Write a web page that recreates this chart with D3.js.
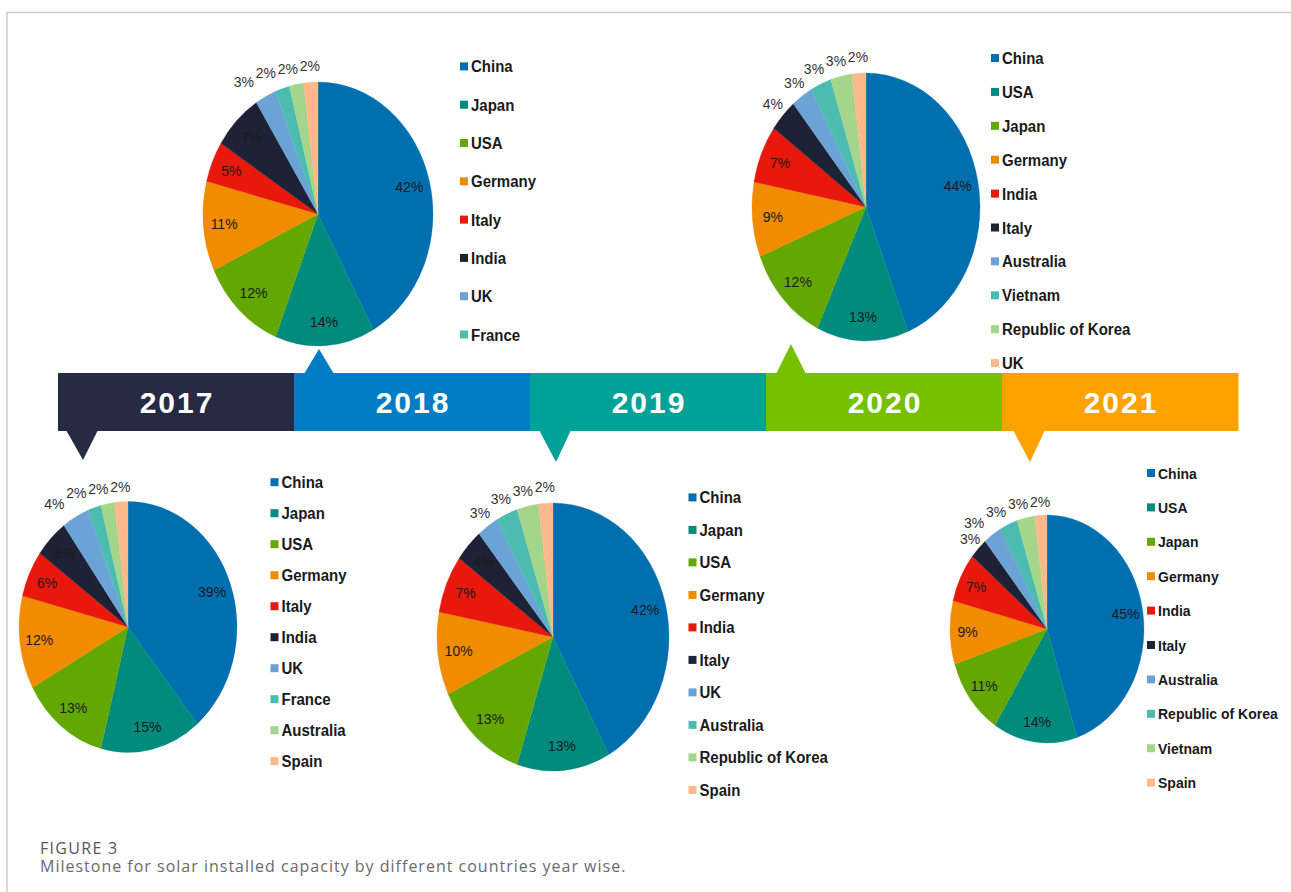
<!DOCTYPE html>
<html><head><meta charset="utf-8">
<script src="https://cdn.jsdelivr.net/npm/d3@7"></script>
<style>body{margin:0;background:#fff;} svg{display:block;}</style>
</head><body><svg id="c" width="1291" height="892"></svg>
<script>
// ---------- DATA ----------
const years = ["2017", "2018", "2019", "2020", "2021"];

const categories2017 = ["China","Japan","USA","Germany","Italy","India","UK","France","Australia","Spain"];
const values2017 = [39, 15, 13, 12, 6, 5, 4, 2, 2, 2];

// 2018 legend shows only eight names; last two slices are unnamed in the figure
const categories2018 = ["China","Japan","USA","Germany","Italy","India","UK","France","",""];
const values2018 = [42, 14, 12, 11, 5, 7, 3, 2, 2, 2];

const categories2019 = ["China","Japan","USA","Germany","India","Italy","UK","Australia","Republic of Korea","Spain"];
const values2019 = [42, 13, 13, 10, 7, 4, 3, 3, 3, 2];

const categories2020 = ["China","USA","Japan","Germany","India","Italy","Australia","Vietnam","Republic of Korea","UK"];
const values2020 = [44, 13, 12, 9, 7, 4, 3, 3, 3, 2];

const categories2021 = ["China","USA","Japan","Germany","India","Italy","Australia","Republic of Korea","Vietnam","Spain"];
const values2021 = [45, 14, 11, 9, 7, 3, 3, 3, 3, 2];

const captionTitle = "FIGURE 3";
const captionText = "Milestone for solar installed capacity by different countries year wise.";

// ---------- STYLE / LAYOUT ----------
const sliceColors = ["#006fb0","#008b7e","#63a800","#f18c00","#e8180c","#1d2236","#6ca3d6","#4cbbb0","#a3d58a","#fcb98b"];
const yearColors = ["#272a43","#007dc5","#00a297","#76c000","#ffa200"];

const panels = [
  {cats: categories2017, vals: values2017, cx: 128, cy: 627, rx: 109, ry: 125.5, lx: 270.5, ly: 482.5, step: 31, fs: 15, insideMin: 5, dir: "down", px: 83, tip: 460},
  {cats: categories2018, vals: values2018, cx: 318, cy: 214, rx: 115, ry: 132, lx: 460, ly: 66.7, step: 38.3, fs: 15, insideMin: 5, dir: "up", px: 319, tip: 349},
  {cats: categories2019, vals: values2019, cx: 553, cy: 637, rx: 116, ry: 134, lx: 688.5, ly: 497.7, step: 32.5, fs: 15, insideMin: 4, dir: "down", px: 556, tip: 462},
  {cats: categories2020, vals: values2020, cx: 866, cy: 207, rx: 114, ry: 134, lx: 991, ly: 58.3, step: 33.9, fs: 15, insideMin: 5, dir: "up", px: 791, tip: 344},
  {cats: categories2021, vals: values2021, cx: 1047, cy: 629, rx: 97, ry: 114, lx: 1147, ly: 473.3, step: 34.4, fs: 14, insideMin: 5, dir: "down", px: 1030, tip: 462}
];

const FONT = "'Liberation Sans', Arial, Helvetica, sans-serif";
const svg = d3.select("#c");

// frame
svg.append("path").attr("d", "M7,892 V12.5 H1291")
  .attr("fill", "none").attr("stroke", "#cdcdcd").attr("stroke-width", 1.5);

// ---------- TIMELINE ----------
const band = d3.scaleBand().domain(years).range([58, 1238]).paddingInner(0).paddingOuter(0);
const barTop = 373, barBot = 431;

// pointers
panels.forEach((p, i) => {
  const pts = p.dir === "down"
    ? [[p.px - 17, barBot - 1], [p.px + 15, barBot - 1], [p.px, p.tip]]
    : [[p.px - 15, barTop + 1], [p.px + 15, barTop + 1], [p.px, p.tip]];
  svg.append("path").attr("d", d3.line()(pts) + "Z").attr("fill", yearColors[i]);
});

svg.selectAll("rect.year").data(years).join("rect")
  .attr("class", "year")
  .attr("x", d => band(d)).attr("y", barTop)
  .attr("width", band.bandwidth() + 0.5).attr("height", barBot - barTop)
  .attr("fill", (d, i) => yearColors[i]);

svg.selectAll("text.year").data(years).join("text")
  .attr("class", "year")
  .attr("x", d => band(d) + band.bandwidth() / 2 + 1)
  .attr("y", (barTop + barBot) / 2 + 11)
  .attr("text-anchor", "middle")
  .attr("font-family", FONT)
  .attr("font-weight", "bold").attr("font-size", 30)
  .attr("letter-spacing", "2px")
  .attr("fill", "#fff")
  .text(d => d);

// ---------- PIES ----------
const pie = d3.pie().sort(null).value(d => d);

panels.forEach(p => {
  const arcs = pie(p.vals);
  const g = svg.append("g").attr("transform", `translate(${p.cx},${p.cy}) scale(1,${p.ry / p.rx})`);
  const arc = d3.arc().innerRadius(0).outerRadius(p.rx);
  g.selectAll("path").data(arcs).join("path")
    .attr("d", arc)
    .attr("fill", (d, i) => sliceColors[i])
    .attr("stroke", (d, i) => sliceColors[i]).attr("stroke-width", 0.3)
    .attr("vector-effect", "non-scaling-stroke");

  // label positions
  const labels = arcs.map((a, i) => {
    const mid = (a.startAngle + a.endAngle) / 2;
    const inside = a.data >= p.insideMin;
    const k = inside ? 0.82 : 1.12;
    return {
      text: a.data + "%", inside,
      x: p.cx + p.rx * k * Math.sin(mid),
      y: p.cy - p.ry * k * Math.cos(mid)
    };
  });
  // simple collision avoidance for outside labels (shift left)
  const w = 22, h = 13;
  const placed = [];
  for (let i = labels.length - 1; i >= 0; i--) {
    const L = labels[i];
    if (L.inside) continue;
    let moved = true;
    while (moved) {
      moved = false;
      for (const q of placed) {
        if (Math.abs(q.x - L.x) < w && Math.abs(q.y - L.y) < h) {
          L.x = q.x - w; moved = true;
        }
      }
    }
    placed.push(L);
  }
  svg.append("g").selectAll("text").data(labels).join("text")
    .attr("x", d => d.x).attr("y", d => d.y).attr("dy", "0.36em")
    .attr("text-anchor", "middle")
    .attr("font-family", FONT)
    .attr("font-size", 14)
    .attr("fill", d => d.inside ? "#1a1a1a" : "#333")
    .text(d => d.text);

  // legend
  const items = p.cats.map((c, i) => ({name: c, color: sliceColors[i]})).filter(d => d.name !== "");
  const lg = svg.append("g");
  items.forEach((it, j) => {
    const y = p.ly + j * p.step;
    lg.append("rect").attr("x", p.lx).attr("y", y - 4.3).attr("width", 8).attr("height", 8).attr("fill", it.color);
    lg.append("text")
      .attr("transform", `translate(${p.lx + 11},${y + p.fs * 0.38}) scale(1,1.08)`)
      .attr("font-family", FONT)
      .attr("font-weight", "bold").attr("font-size", p.fs)
      .attr("fill", "#1a1a1a").text(it.name);
  });
});

// ---------- CAPTION ----------
svg.append("text").attr("x", 40).attr("y", 853.5)
  .attr("font-family", "'Open Sans', Lato, sans-serif").attr("font-size", 16)
  .attr("letter-spacing", "1.3px")
  .attr("fill", "#555").text(captionTitle);
svg.append("text").attr("x", 40).attr("y", 871.5)
  .attr("font-family", "'Open Sans', Lato, sans-serif").attr("font-size", 16)
  .attr("letter-spacing", "1px")
  .attr("fill", "#6a6a6a").text(captionText);
</script>
</body></html>
